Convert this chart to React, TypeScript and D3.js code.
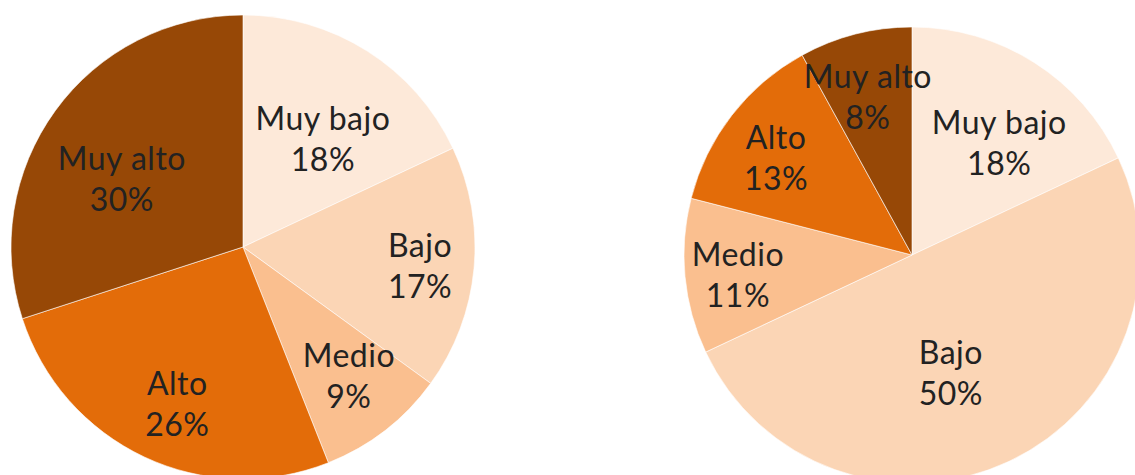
import React from "react";
import * as d3 from "d3";

const categories = ["Muy bajo", "Bajo", "Medio", "Alto", "Muy alto"];
const leftValues = [18, 17, 9, 26, 30];
const rightValues = [18, 50, 11, 13, 8];
const colors = ["#FDE9D9", "#FBD5B5", "#FABF8F", "#E36C09", "#974806"];

// layout only: label distance from centre as a fraction of the radius, and angular nudge (degrees)
const leftLabelRatio = [0.586, 0.767, 0.716, 0.728, 0.603];
const leftLabelNudge = [3.6, 0.4, -1.8, -2.3, -6];
const rightLabelRatio = [0.627, 0.54, 0.768, 0.737, 0.724];
const rightLabelNudge = [5.2, 6.8, -0.8, -1.8, -1.1];

const W = 1135;
const H = 475;
const FONT = "Lato, 'Open Sans', sans-serif";
const FS = 32;
const LINE = 41;

function Pie({ cx, cy, r, values, ratios, nudges }: { cx: number; cy: number; r: number; values: number[]; ratios: number[]; nudges: number[] }) {
  const pie = d3.pie<number>().sort(null).value((d) => d);
  const arcs = pie(values);
  const arc = d3.arc<d3.PieArcDatum<number>>().innerRadius(0).outerRadius(r);
  return (
    <g transform={`translate(${cx},${cy})`}>
      {arcs.map((a, i) => (
        <path key={i} d={arc(a) || ""} fill={colors[i]} stroke="#ffffff" strokeWidth={0.6} />
      ))}
      {arcs.map((a, i) => {
        const mid = (a.startAngle + a.endAngle) / 2 + (nudges[i] * Math.PI) / 180;
        const d = r * ratios[i];
        const x = d * Math.sin(mid);
        const y = -d * Math.cos(mid);
        return (
          <text key={"t" + i} x={x} y={y} textAnchor="middle" fontFamily={FONT} fontSize={FS} letterSpacing={0.5} fill="#222">
            <tspan x={x} dy={-LINE / 2 + 13}>{categories[i]}</tspan>
            <tspan x={x} dy={LINE}>{`${values[i]}%`}</tspan>
          </text>
        );
      })}
    </g>
  );
}

export default function App() {
  return (
    <svg width={W} height={H} style={{ position: "absolute", left: 0, top: 0, background: "#fff" }}>
      <rect width={W} height={H} fill="#fff" />
      <Pie cx={243} cy={247} r={232} values={leftValues} ratios={leftLabelRatio} nudges={leftLabelNudge} />
      <Pie cx={912} cy={255} r={228} values={rightValues} ratios={rightLabelRatio} nudges={rightLabelNudge} />
    </svg>
  );
}
